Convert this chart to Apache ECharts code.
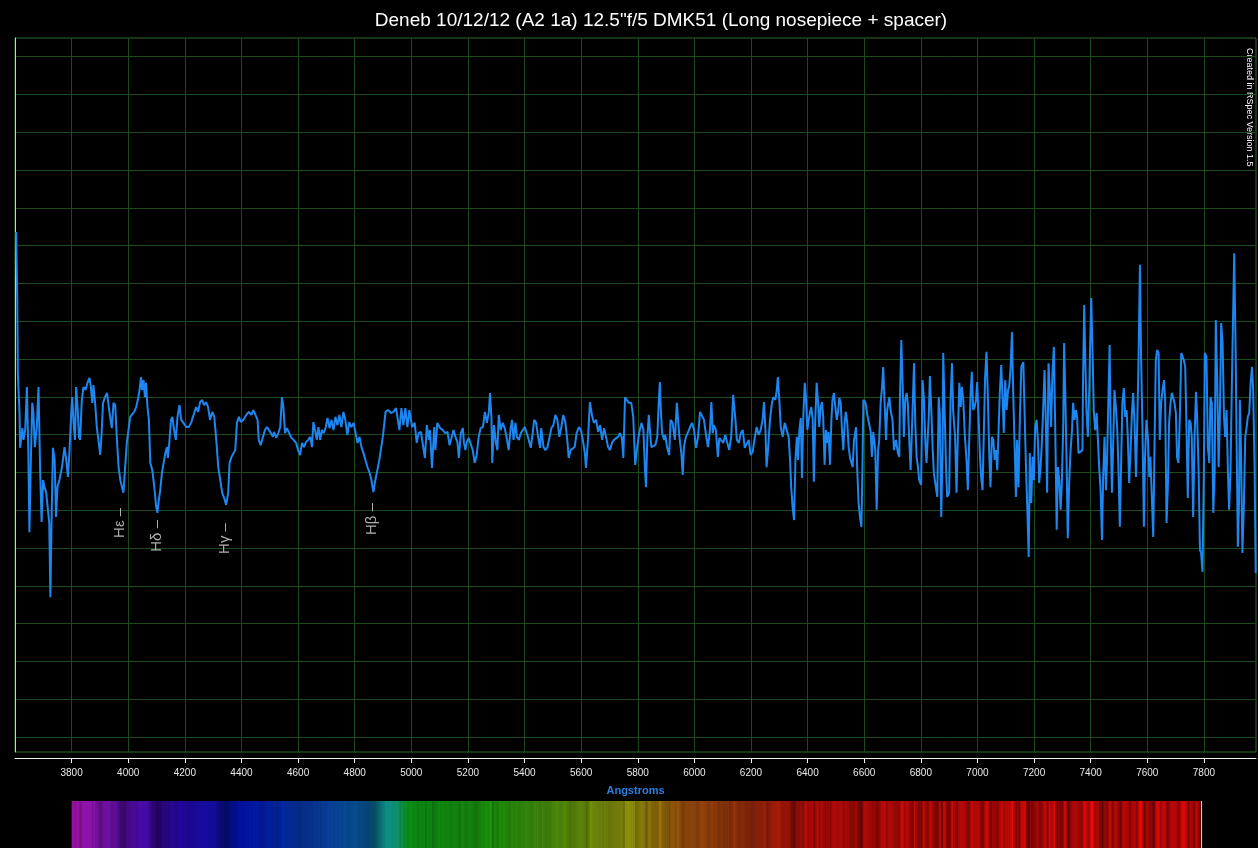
<!DOCTYPE html>
<html>
<head>
<meta charset="utf-8">
<title>Deneb spectrum</title>
<script src="https://cdn.jsdelivr.net/npm/echarts@6/dist/echarts.min.js"></script>
<style>
  html, body { margin: 0; padding: 0; background: #000; }
  #chart { width: 1258px; height: 848px; }
</style>
</head>
<body>
<div id="chart"></div>
<script>
// spectrum points: [wavelength in Angstrom, relative intensity]
const spectrum = [
  [3604,1.336],[3608,1.156],[3610,0.963],[3616,0.857],[3618,0.765],[3626,0.817],[3630,0.786],[3636,0.812],[3642,0.926],[3647,0.759],[3651,0.542],[3656,0.733],
  [3661,0.884],[3665,0.857],[3670,0.767],[3677,0.820],[3683,0.926],[3689,0.698],[3694,0.569],[3699,0.680],[3704,0.661],[3710,0.648],[3716,0.653],[3721,0.566],
  [3725,0.370],[3729,0.566],[3734,0.765],[3740,0.733],[3745,0.582],[3750,0.661],[3757,0.680],[3766,0.714],[3775,0.767],[3781,0.733],[3787,0.688],[3792,0.751],
  [3798,0.847],[3802,0.899],[3807,0.831],[3812,0.786],[3816,0.926],[3821,0.873],[3826,0.794],[3830,0.786],[3836,0.892],[3842,0.926],[3849,0.918],[3856,0.937],
  [3863,0.950],[3868,0.926],[3873,0.884],[3877,0.931],[3883,0.884],[3889,0.820],[3896,0.778],[3901,0.746],[3906,0.804],[3911,0.884],[3918,0.899],[3925,0.910],
  [3930,0.910],[3936,0.847],[3942,0.817],[3948,0.884],[3954,0.878],[3960,0.786],[3966,0.714],[3972,0.680],[3978,0.661],[3983,0.646],[3989,0.714],[3995,0.778],
  [4001,0.780],[4007,0.847],[4013,0.852],[4021,0.860],[4028,0.873],[4034,0.892],[4040,0.918],[4045,0.952],[4049,0.918],[4054,0.944],[4059,0.899],[4063,0.937],
  [4068,0.873],[4073,0.839],[4078,0.725],[4085,0.706],[4092,0.661],[4099,0.608],[4103,0.593],[4108,0.627],[4113,0.653],[4119,0.698],[4125,0.725],[4131,0.751],
  [4137,0.767],[4140,0.738],[4145,0.778],[4151,0.839],[4156,0.847],[4162,0.812],[4168,0.786],[4174,0.847],[4181,0.878],[4187,0.839],[4195,0.831],[4205,0.820],
  [4214,0.820],[4223,0.833],[4233,0.857],[4240,0.873],[4247,0.860],[4254,0.886],[4261,0.892],[4268,0.878],[4275,0.886],[4282,0.873],[4289,0.839],[4297,0.860],
  [4304,0.847],[4311,0.786],[4318,0.714],[4325,0.680],[4332,0.646],[4339,0.632],[4346,0.614],[4353,0.646],[4358,0.725],[4365,0.741],[4372,0.746],[4378,0.759],
  [4384,0.831],[4391,0.847],[4398,0.833],[4407,0.839],[4417,0.852],[4426,0.860],[4435,0.852],[4442,0.865],[4449,0.860],[4457,0.839],[4461,0.786],[4468,0.772],
  [4476,0.794],[4483,0.812],[4490,0.820],[4497,0.825],[4504,0.804],[4511,0.794],[4515,0.807],[4523,0.791],[4530,0.804],[4537,0.820],[4543,0.899],[4548,0.873],
  [4554,0.804],[4560,0.817],[4567,0.807],[4574,0.794],[4584,0.786],[4593,0.778],[4600,0.759],[4607,0.746],[4614,0.778],[4621,0.767],[4628,0.780],[4636,0.786],
  [4643,0.794],[4649,0.767],[4654,0.833],[4660,0.812],[4666,0.786],[4672,0.820],[4678,0.786],[4684,0.812],[4690,0.804],[4697,0.817],[4704,0.844],[4711,0.817],
  [4718,0.839],[4725,0.812],[4732,0.847],[4739,0.825],[4746,0.852],[4753,0.820],[4760,0.860],[4767,0.839],[4774,0.799],[4781,0.833],[4788,0.820],[4796,0.831],
  [4803,0.833],[4810,0.778],[4817,0.794],[4824,0.767],[4831,0.751],[4838,0.733],[4845,0.714],[4852,0.701],[4859,0.680],[4866,0.648],[4873,0.680],[4880,0.706],
  [4887,0.733],[4894,0.767],[4901,0.804],[4909,0.860],[4918,0.865],[4928,0.857],[4937,0.860],[4946,0.870],[4953,0.873],[4958,0.812],[4965,0.870],[4972,0.825],
  [4979,0.870],[4986,0.820],[4993,0.865],[5003,0.820],[5012,0.831],[5019,0.778],[5026,0.804],
  [5034,0.807],[5041,0.812],[5048,0.738],[5055,0.825],[5062,0.786],[5066,0.812],[5073,0.712],[5081,0.820],[5085,0.759],[5092,0.831],[5102,0.817],[5111,0.812],
  [5120,0.804],[5128,0.807],[5135,0.772],[5142,0.791],[5149,0.812],[5156,0.794],[5163,0.780],[5168,0.738],[5175,0.804],[5182,0.817],[5186,0.778],[5191,0.759],
  [5196,0.780],[5203,0.791],[5210,0.794],[5217,0.759],[5224,0.725],[5231,0.746],[5238,0.794],[5245,0.817],[5253,0.820],[5260,0.860],[5267,0.831],[5274,0.860],
  [5278,0.910],[5283,0.847],[5286,0.725],[5292,0.825],[5299,0.778],[5304,0.759],[5309,0.852],[5316,0.812],[5323,0.831],[5330,0.817],[5337,0.791],[5344,0.759],
  [5351,0.817],[5356,0.839],[5361,0.786],[5368,0.831],[5373,0.794],[5380,0.786],[5387,0.804],[5394,0.799],[5401,0.820],[5408,0.817],[5415,0.786],[5422,0.765],
  [5429,0.804],[5434,0.839],[5441,0.831],[5448,0.794],[5455,0.765],[5459,0.817],[5467,0.767],[5474,0.759],[5481,0.767],[5488,0.765],[5495,0.817],[5502,0.825],
  [5509,0.852],[5516,0.839],[5523,0.794],[5530,0.820],[5537,0.852],[5544,0.833],[5551,0.786],[5556,0.738],[5563,0.759],[5570,0.759],[5577,0.767],[5584,0.804],
  [5592,0.820],[5599,0.812],[5606,0.786],[5613,0.751],[5617,0.712],[5624,0.786],[5631,0.886],[5638,0.852],[5645,0.831],[5653,0.839],[5660,0.807],[5667,0.825],
  [5674,0.786],[5681,0.817],[5688,0.794],[5695,0.767],[5702,0.759],[5709,0.778],[5716,0.786],[5723,0.791],[5730,0.794],[5737,0.804],[5744,0.791],[5749,0.738],
  [5755,0.899],[5761,0.897],[5768,0.884],
  [5777,0.884],[5784,0.847],[5791,0.720],[5798,0.767],[5805,0.804],[5813,0.831],[5820,0.812],[5825,0.714],[5829,0.661],[5834,0.794],[5839,0.852],[5843,0.812],
  [5848,0.767],[5855,0.765],[5862,0.772],[5869,0.794],[5874,0.884],[5878,0.939],[5881,0.873],[5886,0.804],[5893,0.786],[5897,0.799],[5904,0.765],[5911,0.746],
  [5916,0.839],[5923,0.831],[5931,0.786],[5938,0.884],[5942,0.884],[5947,0.794],[5954,0.751],[5959,0.693],[5963,0.767],[5970,0.794],[5978,0.807],[5985,0.820],
  [5992,0.831],[5999,0.812],[6006,0.765],[6013,0.794],[6020,0.860],[6027,0.857],[6034,0.839],[6041,0.799],[6048,0.767],[6055,0.812],[6060,0.886],[6065,0.804],
  [6069,0.825],[6076,0.812],[6083,0.741],[6088,0.791],[6095,0.794],[6102,0.778],[6109,0.799],[6116,0.799],[6123,0.759],[6130,0.794],[6137,0.905],[6145,0.839],
  [6150,0.786],[6157,0.778],[6164,0.804],[6171,0.812],[6178,0.765],[6185,0.765],[6192,0.786],[6199,0.746],[6206,0.754],[6213,0.791],[6220,0.820],[6227,0.799],
  [6234,0.812],[6241,0.839],[6246,0.886],[6251,0.812],[6255,0.714],[6260,0.759],[6267,0.839],[6274,0.884],[6279,0.899],[6286,0.892],[6291,0.918],[6295,0.952],
  [6300,0.892],[6305,0.820],[6312,0.794],[6319,0.831],[6326,0.831],[6333,0.794],[6338,0.733],[6342,0.661],[6347,0.608],[6352,0.574],[6357,0.733],[6362,0.794],
  [6366,0.733],[6371,0.812],[6376,0.844],[6380,0.685],[6385,0.852],[6390,0.937],[6394,0.899],[6399,0.812],[6404,0.839],[6408,0.857],[6413,0.873],[6418,0.839],
  [6422,0.675],[6427,0.839],[6432,0.937],[6437,0.884],[6441,0.820],[6446,0.873],[6451,0.886],[6455,0.847],[6460,0.720],[6465,0.812],[6469,0.778],[6474,0.807],
  [6479,0.720],[6484,0.839],[6488,0.892],[6493,0.910],[6498,0.873],[6503,0.839],[6507,0.857],[6512,0.897],[6517,0.884],[6521,0.817],[6526,0.759],[6531,0.831],
  [6535,0.860],[6540,0.831],[6545,0.767],[6550,0.738],
  [6559,0.714],[6564,0.786],[6571,0.820],[6575,0.714],[6580,0.619],[6585,0.582],[6590,0.556],[6594,0.725],[6597,0.892],[6604,0.886],[6611,0.852],[6618,0.847],
  [6623,0.807],[6627,0.741],[6632,0.807],[6639,0.759],[6644,0.601],[6649,0.759],[6653,0.786],[6658,0.884],[6663,0.926],[6667,0.979],[6672,0.884],[6677,0.786],
  [6681,0.865],[6689,0.899],[6693,0.865],[6700,0.839],[6705,0.759],[6712,0.786],[6719,0.751],[6724,0.741],[6726,0.892],[6731,1.050],[6736,0.926],[6740,0.794],
  [6745,0.892],[6750,0.910],[6754,0.884],[6759,0.786],[6764,0.706],[6771,0.706],[6776,0.989],[6780,0.839],[6785,0.741],[6790,0.714],[6794,0.680],[6801,0.667],
  [6806,0.944],[6811,0.892],[6816,0.778],[6820,0.725],[6828,0.847],[6832,0.955],[6837,0.865],[6842,0.759],[6846,0.698],[6853,0.661],[6858,0.635],[6863,0.899],
  [6867,0.857],[6872,0.582],[6877,0.759],[6879,1.016],[6884,0.865],[6889,0.714],[6893,0.635],[6900,0.646],[6905,0.892],[6910,0.989],[6914,0.865],[6921,0.794],
  [6926,0.646],[6931,0.804],[6936,0.937],[6941,0.873],[6945,0.926],[6950,0.892],[6955,0.804],[6962,0.725],[6966,0.653],[6971,0.786],[6976,0.910],[6980,0.966],
  [6985,0.865],[6990,0.873],[6995,0.892],[6999,0.939],[7004,0.847],[7009,0.741],[7013,0.688],[7018,0.653],[7023,0.820],[7027,0.952],[7032,1.019],[7037,0.892],
  [7042,0.741],[7046,0.661],[7051,0.794],[7056,0.786],[7061,0.733],[7065,0.759],[7070,0.706],[7075,0.820],[7079,0.910],[7084,0.984],[7089,0.892],[7093,0.804],
  [7098,0.944],[7103,0.865],[7108,0.918],[7112,0.926],[7117,0.976],[7122,1.071],[7126,0.918],[7131,0.778],[7136,0.635],[7140,0.786],[7145,0.661],[7150,0.847],
  [7155,0.979],[7162,0.992],[7167,0.989],[7171,0.725],[7176,0.608],[7181,0.476],[7185,0.751],[7190,0.619],[7195,0.741],[7199,0.680],[7204,0.820],[7209,0.839],
  [7214,0.778],[7218,0.672],[7223,0.714],[7228,0.786],[7232,0.865],[7237,0.971],[7242,0.820],[7246,0.646],[7251,0.989],[7256,0.910],[7260,0.820],[7265,0.963],
  [7270,1.032],[7275,0.804],[7280,0.548],[7284,0.714],
  [7289,0.680],[7294,0.601],[7298,0.672],[7303,0.820],[7306,1.042],[7310,0.918],[7315,0.725],[7319,0.526],[7324,0.672],[7329,0.759],[7334,0.812],[7338,0.884],
  [7343,0.839],[7348,0.865],[7352,0.847],[7357,0.751],[7364,0.746],[7371,0.759],[7373,0.944],[7377,1.143],[7381,0.997],[7385,0.865],[7390,0.794],[7395,0.918],
  [7398,1.032],[7402,1.161],[7407,1.005],[7411,0.860],[7416,0.812],[7421,0.857],[7425,0.794],[7430,0.714],[7435,0.653],[7440,0.521],[7444,0.688],[7449,0.794],
  [7454,0.653],[7458,0.741],[7463,0.910],[7467,1.037],[7470,0.831],[7475,0.646],[7479,0.759],[7484,0.918],[7489,0.873],[7494,0.812],[7498,0.714],[7503,0.556],
  [7508,0.741],[7512,0.884],[7517,0.923],[7522,0.847],[7527,0.865],[7531,0.794],[7536,0.672],[7541,0.759],[7546,0.865],[7550,0.910],[7555,0.831],[7560,0.688],
  [7564,0.812],[7569,0.997],[7574,1.249],[7578,1.005],[7583,0.812],[7588,0.556],[7592,0.741],[7597,0.839],[7602,0.794],[7607,0.688],[7611,0.741],[7616,0.635],
  [7621,0.529],[7626,0.794],[7630,0.997],[7635,1.024],[7640,1.016],[7644,0.786],[7649,0.884],[7654,0.918],[7659,0.944],[7663,0.892],[7668,0.566],[7673,0.672],
  [7677,0.831],[7682,0.884],[7687,0.910],[7691,0.899],[7696,0.884],[7701,0.857],[7705,0.741],[7710,0.725],[7715,0.847],[7720,1.016],[7725,1.016],[7729,0.997],
  [7734,0.979],[7739,0.794],[7743,0.632],[7748,0.839],[7753,0.831],[7757,0.794],[7762,0.582],[7767,0.794],[7772,0.913],[7776,0.847],[7781,0.714],[7786,0.495],
  [7790,0.487],[7795,0.437],[7800,0.714],[7803,1.016],[7809,1.005],[7814,0.767],[7819,0.725],[7823,0.899],[7828,0.884],[7833,0.593],[7838,0.698],[7842,1.103],
  [7847,0.944],[7852,0.714],[7856,0.831],[7861,1.095],[7866,1.042],[7871,0.847],[7875,0.794],[7880,0.865],[7885,0.698],[7889,0.601],[7894,0.706],[7899,0.944],
  [7903,1.111],[7907,1.280],[7912,1.024],[7915,0.812],[7920,0.503],[7924,0.619],[7927,0.892],[7931,0.759],[7936,0.487],[7941,0.608],[7946,0.794],[7951,0.820],
  [7955,0.847],[7960,0.857],[7965,0.937],[7970,0.979],[7974,0.918],[7979,0.714],[7983,0.434]
];

// axis ticks / grid levels
const xTicks = [3800, 4000, 4200, 4400, 4600, 4800, 5000, 5200, 5400, 5600, 5800,
                6000, 6200, 6400, 6600, 6800, 7000, 7200, 7400, 7600, 7800];
const yGridLevels = [0, 0.1, 0.2, 0.3, 0.4, 0.5, 0.6, 0.7, 0.8, 0.9, 1.0,
                     1.1, 1.2, 1.3, 1.4, 1.5, 1.6, 1.7, 1.8];

// hydrogen lines marked on the plot
const lineNames = ['Hε', 'Hδ', 'Hγ', 'Hβ'];
const lineWavelengths = [3970, 4102, 4340, 4861];
const lineLabelLevels = [0.606, 0.574, 0.566, 0.619];

// wavelength span of the synthetic colour strip
const stripRange = [3800, 7790];

// colour of the strip at full brightness
const stripColors = [
  [3800, [215, 25, 225]], [3880, [165, 25, 215]], [4000, [110, 15, 215]],
  [4200, [45, 10, 215]], [4400, [0, 25, 230]], [4700, [10, 90, 220]],
  [4850, [10, 120, 200]], [4900, [20, 200, 200]], [4950, [20, 200, 150]],
  [4990, [15, 200, 30]], [5300, [40, 200, 15]], [5600, [140, 195, 15]],
  [5800, [200, 190, 15]], [5950, [210, 110, 15]], [6200, [200, 55, 15]],
  [6400, [235, 15, 10]], [8000, [250, 10, 10]]
];

function baseColor(w) {
  for (let i = 0; i < stripColors.length - 1; i++) {
    const s0 = stripColors[i], s1 = stripColors[i + 1];
    if (w <= s1[0]) {
      const t = Math.max(0, (w - s0[0]) / (s1[0] - s0[0]));
      return [0, 1, 2].map(k => s0[1][k] + (s1[1][k] - s0[1][k]) * t);
    }
  }
  return stripColors[stripColors.length - 1][1];
}

function stripColor(w, v) {
  const b = Math.min(1.0, Math.max(0.35, 0.45 + (v - 0.6) * 1.0));
  const c = baseColor(w).map(x => Math.round(Math.min(255, x * b)));
  return 'rgb(' + c.join(',') + ')';
}

let stripData = [];
for (let i = 0; i < spectrum.length - 1; i++) {
  const a = Math.max(spectrum[i][0], stripRange[0]);
  const b = Math.min(spectrum[i + 1][0], stripRange[1]);
  if (b > a) stripData.push([a, b, spectrum[i][1]]);
}

function renderStrip(params, api) {
  const p0 = api.coord([api.value(0), 1]);
  const p1 = api.coord([api.value(1), 0]);
  const rect = {
    type: 'rect',
    shape: { x: p0[0], y: p0[1], width: p1[0] - p0[0] + 0.6, height: p1[1] - p0[1] },
    style: { fill: stripColor((api.value(0) + api.value(1)) / 2, api.value(2)) }
  };
  if (params.dataIndex === stripData.length - 1) {
    return {
      type: 'group',
      children: [rect, {
        type: 'line',
        shape: { x1: p1[0] + 0.5, y1: p0[1], x2: p1[0] + 0.5, y2: p1[1] },
        style: { stroke: '#e8d6d6', lineWidth: 1 }
      }]
    };
  }
  return rect;
}

const GRID_GREEN = '#1b4a1b';
const FONT = 'Liberation Sans';

let myChart = echarts.init(document.getElementById('chart'));

let option = {
  backgroundColor: '#000',
  animation: false,
  title: {
    text: 'Deneb 10/12/12 (A2 1a) 12.5"f/5 DMK51 (Long nosepiece + spacer)',
    left: 656,
    top: 6,
    textAlign: 'center',
    textStyle: { color: '#ffffff', fontSize: 19, fontWeight: 'normal', fontFamily: FONT }
  },
  grid: [
    {
      left: 15, right: 2, top: 38, bottom: 96,
      show: true, borderColor: '#2a6a2a', borderWidth: 1,
      outerBoundsMode: 'none'
    },
    { left: 15, right: 2, top: 801, height: 47, show: false, outerBoundsMode: 'none' }
  ],
  xAxis: [
    {
      type: 'value', gridIndex: 0, min: 3600, max: 7984, offset: 6,
      axisLine: { show: true, onZero: false, lineStyle: { color: '#f0f0f0', width: 1 } },
      axisTick: { show: true, length: 5, customValues: xTicks, lineStyle: { color: '#f0f0f0' } },
      axisLabel: {
        customValues: xTicks, color: '#e8e8e8', fontSize: 10, margin: 10, fontFamily: FONT,
        formatter: v => String(v)
      },
      splitLine: { show: true, lineStyle: { color: GRID_GREEN, width: 1 } },
      name: 'Angstroms',
      nameLocation: 'middle',
      nameGap: 27,
      nameTextStyle: { color: '#2a7fe0', fontWeight: 'bold', fontSize: 11, fontFamily: FONT }
    },
    { type: 'value', gridIndex: 1, min: 3600, max: 7984, show: false }
  ],
  yAxis: [
    {
      type: 'value', gridIndex: 0, min: -0.0397, max: 1.8492,
      axisLine: { show: true, onZero: false, lineStyle: { color: '#e0dc50', width: 1 } },
      axisTick: { show: false, customValues: yGridLevels },
      axisLabel: { show: false, customValues: yGridLevels },
      splitLine: { show: true, lineStyle: { color: GRID_GREEN, width: 1 } }
    },
    { type: 'value', gridIndex: 1, min: 0, max: 1, show: false }
  ],
  graphic: [
    {
      type: 'text', x: 1249, y: 48, rotation: -Math.PI / 2, silent: true,
      style: {
        text: 'Created in RSpec Version 1.5',
        fill: '#ffffff',
        font: '9px "Liberation Sans"',
        align: 'left',
        verticalAlign: 'middle'
      }
    }
  ],
  series: [
    {
      name: 'Deneb',
      type: 'line',
      xAxisIndex: 0, yAxisIndex: 0,
      data: spectrum,
      showSymbol: false,
      silent: true,
      lineStyle: { color: '#1e86f0', width: 2 }
    },
    {
      name: 'lines',
      type: 'scatter',
      xAxisIndex: 0, yAxisIndex: 0,
      symbolSize: 1,
      silent: true,
      itemStyle: { color: 'rgba(0,0,0,0)' },
      data: lineNames.map((n, i) => ({ name: n, value: [lineWavelengths[i], lineLabelLevels[i]] })),
      label: {
        show: true,
        position: 'inside',
        rotate: 90,
        align: 'right',
        verticalAlign: 'middle',
        formatter: p => p.name + ' –',
        color: '#d8d8d8',
        fontSize: 15,
        fontFamily: FONT
      }
    },
    {
      name: 'strip',
      type: 'custom',
      xAxisIndex: 1, yAxisIndex: 1,
      silent: true,
      renderItem: renderStrip,
      encode: { x: [0, 1], y: 2 },
      data: stripData
    }
  ]
};

myChart.setOption(option);
</script>
</body>
</html>
